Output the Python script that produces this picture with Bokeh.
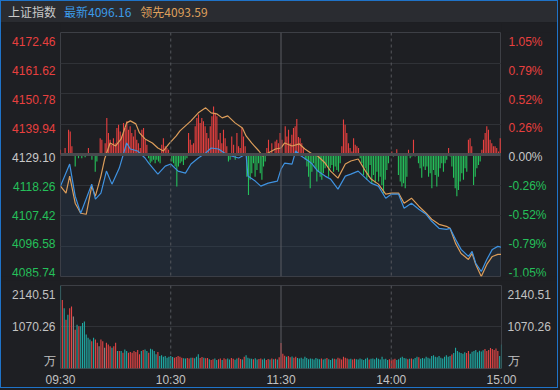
from bokeh.plotting import figure
from bokeh.models import (Range1d, ColumnDataSource, Span, Grid, FixedTicker,
                          LinearAxis, Div, GlobalInlineStyleSheet)
from bokeh.layouts import column, row
from bokeh.embed import file_html
from bokeh.resources import INLINE
from bokeh.core.properties import value

# ---------------- data ----------------
index_name = "上证指数"
latest_text = "最新4096.16"
lead_text = "领先4093.59"

prev_close = 4129.10
price_ticks = [4085.74, 4096.58, 4107.42, 4118.26, 4129.10, 4139.94, 4150.78, 4161.62, 4172.46]
price_labels = ["4085.74", "4096.58", "4107.42", "4118.26", "4129.10", "4139.94", "4150.78", "4161.62", "4172.46"]
pct_labels = ["-1.05%", "-0.79%", "-0.52%", "-0.26%", "0.00%", "0.26%", "0.52%", "0.79%", "1.05%"]

time_ticks = [0, 60, 120, 180, 240]
time_labels = ["09:30", "10:30", "11:30", "14:00", "15:00"]

vol_max = 2140.51
vol_mid = 1070.26
vol_labels = ["万", "1070.26", "2140.51"]

blue_t = [0,5,8,11,17,19,22,25,28,32,36,38,42,46,48,53,57,60,64,68,71,75,79,82,86,90,93,97,101,102,
          106,109,113,118,120,122,126,128,131,135,137,140,144,147,151,155,158,162,166,169,173,177,180,184,187,
          191,195,199,202,206,210,212,215,218,222,224,226,229,232,235,238,240]
blue_v = [4117.86,4125.71,4114.29,4108.22,4118.57,4113.22,4115.36,4123.21,4118.57,4124.28,
          4133.20,4131.06,4130.35,4127.85,4126.06,4122.14,4124.99,4125.71,4123.21,4122.50,
          4125.71,4127.85,4129.63,4131.42,4131.06,4129.28,4128.56,4127.85,4129.28,4121.42,
          4119.64,4117.86,4118.93,4119.64,4123.92,4126.06,4125.71,4130.35,4128.56,4126.78,
          4125.71,4123.21,4121.42,4120.35,4116.79,4121.42,4122.14,4123.21,4120.71,4118.93,
          4117.86,4113.57,4115.00,4115.00,4110.00,4111.79,4109.65,4107.86,4105.36,4102.87,
          4102.51,4102.87,4098.94,4095.37,4092.87,4094.66,4090.38,4087.52,4091.80,4095.37,
          4096.44,4096.16]

orange_t = [0,3,5,8,11,14,17,19,22,24,27,30,33,36,38,41,43,46,50,53,56,59,63,65,68,71,75,79,82,85,
            88,91,95,99,101,104,108,110,113,117,120,122,126,130,133,137,140,144,147,151,155,158,162,166,169,
            173,177,180,184,187,191,195,199,202,206,210,212,215,218,222,224,226,229,232,235,238,240]
orange_v = [4117.86,4115.36,4121.42,4111.79,4108.22,4107.86,4117.86,4114.29,4121.42,4127.49,
            4133.20,4132.13,4134.63,4140.34,4141.05,4139.98,4136.77,4134.63,4133.20,4131.42,
            4130.35,4132.85,4135.70,4137.48,4139.27,4141.05,4143.91,4145.69,4143.91,4143.55,
            4142.12,4142.84,4140.34,4138.56,4135.70,4133.20,4130.35,4128.56,4129.63,4131.06,
            4131.42,4133.20,4132.13,4132.85,4131.06,4129.28,4128.56,4126.06,4123.21,4120.71,
            4125.71,4126.78,4127.49,4123.21,4120.35,4118.57,4115.00,4115.36,4115.36,4111.79,
            4113.57,4110.72,4108.22,4106.08,4104.29,4103.58,4102.87,4097.51,4093.94,4091.80,
            4093.94,4090.02,4085.74,4090.02,4092.87,4093.59,4093.59]

bar_t = [0.0,2.5,4.4,5.3,6.2,8.0,9.8,11.6,13.4,15.2,17.1,18.9,19.8,21.6,22.5,24.3,25.2,26.1,27.0,27.9,
         28.8,29.8,30.7,31.6,32.5,33.4,34.3,35.2,36.1,37.0,37.9,38.8,39.7,40.6,41.5,42.4,43.4,44.3,45.2,46.1,
         47.0,47.9,48.8,49.7,50.6,51.5,52.4,53.3,54.2,55.1,56.0,57.0,57.9,58.8,60.6,61.5,62.4,63.3,64.2,65.1,
         66.0,66.9,67.8,68.8,69.7,70.6,71.5,72.4,73.3,74.2,75.1,76.0,76.9,77.8,78.7,79.6,80.5,81.5,82.4,83.3,
         84.2,85.1,86.0,86.9,87.8,88.7,89.6,90.5,91.4,92.3,93.2,94.2,95.1,96.0,96.9,97.8,98.7,99.6,100.5,101.4,
         102.3,103.2,104.1,105.0,105.9,106.9,107.8,108.7,109.6,110.5,111.4,112.3,113.2,115.0,116.8,117.7,118.6,119.5,120.5,
         122.3,123.2,124.1,125.0,125.9,126.8,127.7,128.6,129.5,130.4,131.3,132.2,133.2,134.1,135.0,135.9,136.8,137.7,138.6,139.5,
         140.4,141.3,142.2,143.1,144.0,144.9,145.9,146.8,147.7,148.6,149.5,150.4,151.3,152.2,153.1,154.0,154.9,155.8,156.7,157.6,
         158.6,159.5,160.4,161.3,162.2,163.1,164.0,164.9,165.8,166.7,167.6,168.5,169.4,170.3,171.3,172.2,173.1,174.0,174.9,175.8,
         176.7,177.6,178.5,180.3,181.2,183.0,183.9,184.9,185.8,186.7,187.6,188.5,189.4,190.3,191.2,192.1,193.0,194.8,195.7,196.6,
         197.6,198.5,199.4,200.3,201.2,202.1,203.0,203.9,204.8,205.7,206.6,207.5,208.4,209.3,210.2,211.2,212.1,213.0,213.9,214.8,
         215.7,216.6,217.5,218.4,219.3,220.2,221.1,222.0,222.9,223.8,224.8,225.7,226.6,227.5,228.4,229.3,230.2,231.1,232.0,232.9,
         233.8,234.7,235.6,236.5,237.4,238.4,239.3]
bar_v = [1.7,2.3,8.8,8.2,2.9,-4.3,-1.3,-1.3,-1.0,2.3,-1.9,-6.1,-2.5,5.8,5.2,4.0,13.0,7.6,5.2,3.5,
         5.8,4.0,9.4,10.6,8.2,6.4,11.2,9.4,11.8,8.8,10.0,7.6,6.4,8.8,5.2,4.0,2.3,8.8,9.4,5.2,
         3.5,-1.3,-3.1,-2.5,-1.9,-3.1,-1.9,-2.5,-3.1,3.5,5.8,2.9,2.3,1.7,-2.5,-3.1,-4.3,-11.4,-4.3,-3.1,
         -2.5,-3.7,-1.9,-1.3,7.6,5.2,3.5,4.0,10.0,13.0,14.2,11.2,13.0,11.8,10.0,7.6,5.8,10.0,13.6,17.1,
         14.8,13.6,5.2,7.6,4.0,8.8,5.8,2.9,-2.5,-1.9,6.4,3.5,-1.9,7.6,2.9,2.3,9.4,6.4,2.9,-7.9,
         -14.4,-9.0,-6.7,-3.1,-7.9,-5.5,-3.1,-6.7,-9.0,-4.3,-2.5,2.3,5.2,4.0,4.6,5.2,4.0,7.6,5.2,
         10.0,6.4,8.8,4.0,7.0,9.4,10.0,12.6,6.2,5.8,4.0,2.3,-1.9,-4.3,-7.9,-12.0,-6.1,-3.1,-4.9,-9.6,
         -6.1,-7.9,-9.0,-6.7,-4.9,-3.7,-7.9,-4.9,-3.7,-6.1,-4.3,-5.5,-6.1,-3.1,2.9,12.4,10.6,7.6,4.0,2.3,
         1.1,5.8,3.5,2.9,2.3,-1.3,-3.1,-7.3,-4.9,-9.0,-7.9,-3.7,-10.2,-7.3,-10.2,-6.1,-9.6,-7.9,-10.8,-13.8,
         -9.0,-5.5,-3.1,1.1,-0.7,1.9,-7.3,-9.6,-11.4,-10.2,-12.0,-7.9,1.7,-1.3,-0.7,5.2,-0.7,-3.1,-4.9,-8.3,
         -4.3,-5.5,-4.3,-7.9,-6.7,-12.0,-5.5,-7.3,-11.4,-7.9,-4.9,-3.1,-6.1,-3.1,-1.9,2.3,-0.7,-4.3,-8.3,-12.0,
         -14.8,-12.6,-9.6,-6.7,-9.0,-4.9,-6.1,5.2,5.8,2.9,-10.8,-7.9,-4.9,-3.7,-2.5,1.7,5.2,7.6,10.0,8.8,
         5.2,4.0,2.9,2.9,2.3,1.1,5.8]

vol = [2140,1766,1554,1257,1384,1554,1597,1342,1002,1129,
       1087,1087,1172,1215,875,790,747,705,790,747,
       662,577,747,705,535,662,620,577,535,577,
       662,450,450,450,408,492,450,408,425,408,
       450,425,475,365,450,475,492,450,408,510,
       492,450,365,425,323,340,306,323,280,306,
       323,297,280,297,323,306,280,263,255,272,
       255,280,280,263,306,365,272,297,280,263,
       272,238,221,238,255,221,238,255,221,263,
       240,255,230,270,250,225,260,280,245,235,
       300,340,280,260,250,240,265,230,245,260,
       235,255,220,245,230,260,240,250,230,290,
       660,380,330,300,320,290,310,280,300,270,
       260,280,250,300,270,240,260,250,230,270,
       250,240,260,230,250,270,240,220,260,250,
       240,280,260,230,300,280,260,240,250,230,
       250,240,230,260,240,220,250,280,230,250,
       260,240,280,250,230,300,240,250,220,240,
       210,230,250,220,240,280,300,270,260,240,
       250,260,240,270,300,290,250,270,260,300,
       280,260,320,340,300,290,320,280,260,300,
       340,300,320,360,400,535,450,420,400,380,
       420,400,450,380,430,450,480,420,460,440,
       470,500,450,480,530,500,480,518,450,320,
       620]
vol_dir = "".join([
    "trtrtrrgrt", "rttttttrtr", "rgrrgrrrtr", "rtrtrttrrr", "rrrrtrttrt",
    "tttrtttttt", "ttrrrrrttr", "rtrtttrrtr", "rtrrttrrtr", "rttrrttrrt",
    "rttttrttrr", "ttrrtrtrtr", "rrrtrrtrrt", "tttttttttt", "ttrttrtttr",
    "trrrrrrttr", "rtttttttrt", "tttttttttr", "rrrttttttr", "trtttrtttt",
    "tttttttttt", "tttrtttttt", "trrttttttt", "trrrrrrrrt", "t"])

# ---------------- style ----------------
BG = "#1e1f23"
HEAD_BG = "#2a2c31"
GRID = "#303237"
FRAME = "#3d3f45"
RED = "#e8403f"
GREEN = "#25c05a"
NEUTRAL = "#c8c8c8"
AXIS_TXT = "#c2c2c2"
BLUE = "#3f92e0"
ORANGE = "#dc9d5a"
VOL_RED = "#e34545"
VOL_TEAL = "#1fa9a3"
VOL_GRAY = "#8a8a8a"
NUM_FONT = "Liberation Sans"

W_LEFT, W_RIGHT, W_FRAME = 59, 58, 441
H_PRICE, PAD_TOP, PAD_BOTTOM = 258, 10, 4

x_range = Range1d(0, 240)
price_range = Range1d(price_ticks[0], price_ticks[-1])

# ---------------- header ----------------
header = Div(
    text=(f'<div style="height:21px;line-height:21px;padding-left:7px;white-space:nowrap;'
          f'font-family:\'Noto Sans CJK SC\';font-size:12px;">'
          f'<span style="color:#c9c9c9">{index_name}</span>'
          f'<span style="color:#3c9be8;margin-left:8px">{latest_text}</span>'
          f'<span style="color:#dfa05c;margin-left:9px">{lead_text}</span></div>'),
    width=W_LEFT + W_FRAME + W_RIGHT, height=21, margin=0,
    styles={"background-color": HEAD_BG})

# ---------------- price panel ----------------
p1 = figure(width=W_FRAME, height=H_PRICE, x_range=x_range, y_range=price_range,
            x_axis_type=None, y_axis_type=None, output_backend="svg", toolbar_location=None,
            min_border_left=0, min_border_right=0, min_border_top=PAD_TOP, min_border_bottom=PAD_BOTTOM,
            background_fill_color=BG, border_fill_color=BG, outline_line_color=FRAME, margin=0)

p1.add_layout(Grid(dimension=1, ticker=FixedTicker(ticks=price_ticks), grid_line_color=GRID))
for t in time_ticks[1:-1]:
    if t == 120:
        p1.add_layout(Span(location=t, dimension="height", line_color="#5b5d63", line_width=1))
    else:
        p1.add_layout(Span(location=t, dimension="height", line_color="#55575c", line_width=1,
                           line_dash="3 3"))

p1.varea(x=blue_t, y1=blue_v, y2=price_ticks[0], fill_color="#2c4560", fill_alpha=0.28)

p1.add_layout(Span(location=prev_close, dimension="width", line_color="#47494e", line_width=3))

bar_src = ColumnDataSource(dict(x=bar_t, y0=[prev_close] * len(bar_t),
                                y1=[prev_close + v for v in bar_v],
                                c=[RED if v > 0 else GREEN for v in bar_v]))
p1.segment(x0="x", y0="y0", x1="x", y1="y1", line_color="c", line_width=1.1, source=bar_src)

p1.line(orange_t, orange_v, line_color=ORANGE, line_width=1.2)
p1.line(blue_t, blue_v, line_color=BLUE, line_width=1.2)

# side label strips share the price scale (range widened so the strip frame covers its full height)
per_px = (price_range.end - price_range.start) / (H_PRICE - PAD_TOP - PAD_BOTTOM)
strip_range = Range1d(price_range.start - PAD_BOTTOM * per_px, price_range.end + PAD_TOP * per_px)
tick_colors = [RED if v > prev_close + 1e-9 else (GREEN if v < prev_close - 1e-9 else NEUTRAL)
               for v in price_ticks]


def label_strip(width, labels, anchor, offset, align):
    s = figure(width=width, height=H_PRICE, x_range=Range1d(0, 1), y_range=strip_range,
               x_axis_type=None, y_axis_type=None, output_backend="svg", toolbar_location=None,
               min_border=0, background_fill_color=BG, border_fill_color=BG,
               outline_line_color=None, margin=0)
    src = ColumnDataSource(dict(x=[anchor] * len(price_ticks), y=price_ticks, text=labels, c=tick_colors))
    s.text(x="x", y="y", text="text", text_color="c", x_offset=offset, text_align=align,
           text_baseline="middle", text_font=value(NUM_FONT), text_font_size="12px", source=src)
    return s


left_strip = label_strip(W_LEFT, price_labels, 1, -5, "right")
right_strip = label_strip(W_RIGHT, pct_labels, 0, 7, "left")

# ---------------- volume panel ----------------
p2 = figure(width=W_LEFT + W_FRAME + W_RIGHT, height=109, x_range=x_range, y_range=Range1d(0, vol_max),
            x_axis_type=None, y_axis_type=None, output_backend="svg", toolbar_location=None,
            min_border_left=W_LEFT, min_border_right=W_RIGHT, min_border_top=5, min_border_bottom=20,
            background_fill_color=BG, border_fill_color=BG, outline_line_color=FRAME, margin=0)

p2.add_layout(Grid(dimension=1, ticker=FixedTicker(ticks=[vol_mid]), grid_line_color=GRID))
for t in time_ticks[1:-1]:
    if t == 120:
        p2.add_layout(Span(location=t, dimension="height", line_color="#5b5d63", line_width=1))
    else:
        p2.add_layout(Span(location=t, dimension="height", line_color="#55575c", line_width=1,
                           line_dash="3 3"))

vcol = {"r": VOL_RED, "t": VOL_TEAL, "g": VOL_GRAY}
n = min(len(vol), len(vol_dir))
vol_src = ColumnDataSource(dict(x=list(range(n)), top=vol[:n],
                                c=[vcol[d] for d in vol_dir[:n]]))
p2.vbar(x="x", top="top", bottom=0, width=0.6, fill_color="c", line_color=None, source=vol_src)

# label positions: unit sign sits a little above the base, top label sits inside the frame
vol_label_pos = [190, vol_mid, vol_max - 240]
vol_over = {pos: txt for pos, txt in zip(vol_label_pos, vol_labels)}
for side, standoff in (("left", 5), ("right", 6)):
    ax = LinearAxis(ticker=FixedTicker(ticks=vol_label_pos), major_label_overrides=vol_over,
                    axis_line_color=None, major_tick_line_color=None, minor_tick_line_color=None,
                    major_tick_out=0, major_label_standoff=standoff,
                    major_label_text_color=AXIS_TXT, major_label_text_font=NUM_FONT,
                    major_label_text_font_size="12px")
    p2.add_layout(ax, side)

xax = LinearAxis(ticker=FixedTicker(ticks=time_ticks),
                 major_label_overrides={t: s for t, s in zip(time_ticks, time_labels)},
                 axis_line_color=None, major_tick_line_color=None, minor_tick_line_color=None,
                 major_tick_out=0, major_label_standoff=4,
                 major_label_text_color=AXIS_TXT, major_label_text_font=NUM_FONT,
                 major_label_text_font_size="12px")
p2.add_layout(xax, "below")

page_css = GlobalInlineStyleSheet(css=(
    "html,body{margin:0;padding:0;background:#1e1f23;}"
    "body{border:1px solid #1f73c8;width:558px;height:388px;overflow:hidden;}"))

layout = column(header, row(left_strip, p1, right_strip, spacing=0, margin=0), p2,
                spacing=0, margin=0, stylesheets=[page_css])

open("out.html", "w").write(file_html(layout, INLINE))
